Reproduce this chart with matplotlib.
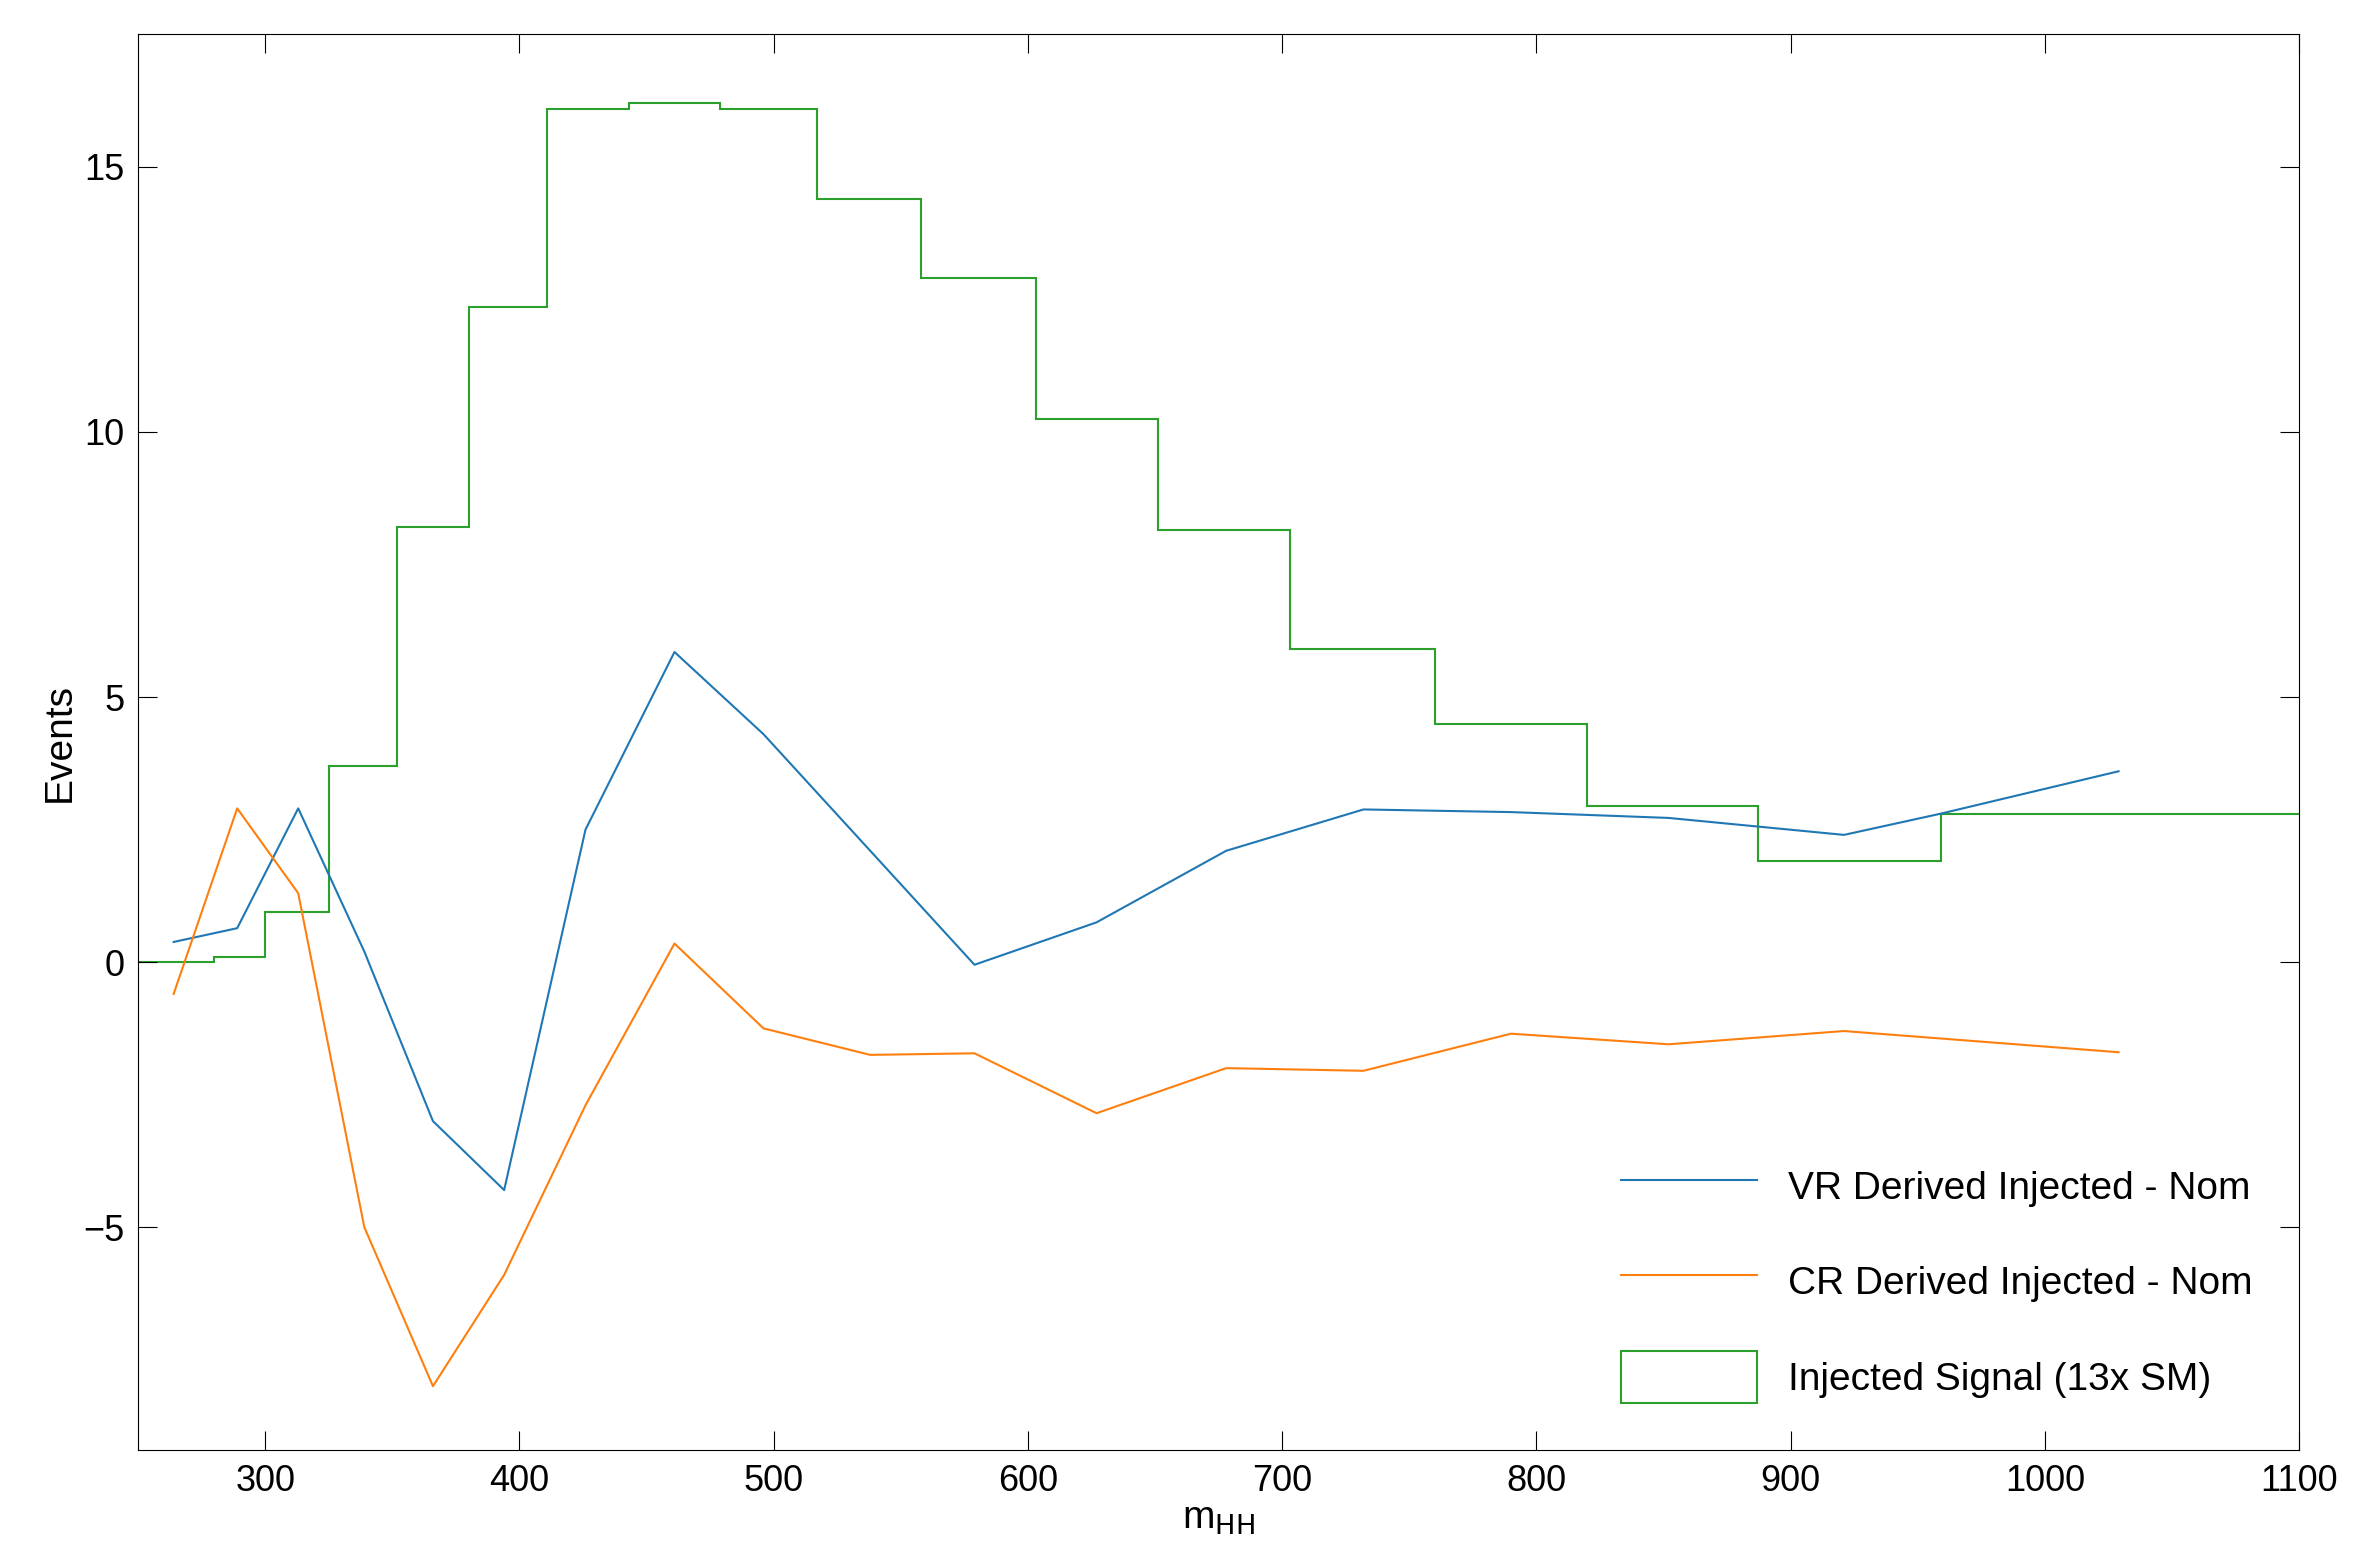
import numpy as np
import matplotlib.pyplot as plt
from matplotlib.patches import Patch
from matplotlib.lines import Line2D

plt.rcParams['font.family'] = ['Liberation Sans', 'DejaVu Sans']

# Injected signal histogram
edges = [250, 280, 300, 325, 352, 380, 411, 443, 479, 517, 558, 603, 651, 703, 760, 820, 887, 959, 1100]
signal = [0, 0.1, 0.95, 3.7, 8.2, 12.35, 16.1, 16.2, 16.1, 14.4, 12.9, 10.25, 8.15, 5.9, 4.5, 2.95, 1.9, 2.8]

# Differences vs nominal
mhh = [264, 289, 313, 339, 366, 394, 426, 461, 496, 538, 579, 627, 678, 732, 790, 852, 921, 959, 1029]
vr_diff = [0.38, 0.64, 2.9, 0.2, -3.0, -4.3, 2.5, 5.85, 4.3, 2.1, -0.05, 0.75, 2.1, 2.88, 2.83, 2.72, 2.4, 2.8, 3.6]
cr_x = [264, 289, 313, 339, 366, 394, 426, 461, 496, 538, 579, 627, 678, 732, 790, 852, 921, 1029]
cr_diff = [-0.6, 2.9, 1.3, -5.0, -8.0, -5.9, -2.7, 0.35, -1.25, -1.75, -1.72, -2.85, -2.0, -2.05, -1.35, -1.55, -1.3, -1.7]

fig = plt.figure(figsize=(23.8, 15.64), dpi=100)
ax = fig.add_axes([0.058, 0.073, 0.908, 0.905])

ax.plot(mhh, vr_diff, color='#1f77b4', lw=1.5)
ax.plot(cr_x, cr_diff, color='#ff7f0e', lw=1.5)
ax.stairs(signal, edges, color='#2ca02c', lw=1.5, baseline=None)

ax.set_xlim(250, 1100)
ax.set_ylim(-9.2, 17.5)
ax.set_xticks(range(300, 1101, 100))
ax.set_yticks([-5, 0, 5, 10, 15])
ax.tick_params(direction='in', length=14, labelsize=26, top=True, right=True, pad=10)
ax.set_xlabel(r'm$_{\mathrm{HH}}$', fontsize=28, labelpad=2)
ax.set_ylabel('Events', fontsize=28)

handles = [Line2D([], [], color='#1f77b4', lw=1.5),
           Line2D([], [], color='#ff7f0e', lw=1.5),
           Patch(facecolor='none', edgecolor='#2ca02c', lw=1.5)]
labels = ['VR Derived Injected - Nom', 'CR Derived Injected - Nom', 'Injected Signal (13x SM)']
ax.legend(handles, labels, loc='lower right', frameon=False, fontsize=28,
          handlelength=3.5, handleheight=1.7, labelspacing=1.1, borderaxespad=0.8)

fig.savefig('out.png')
